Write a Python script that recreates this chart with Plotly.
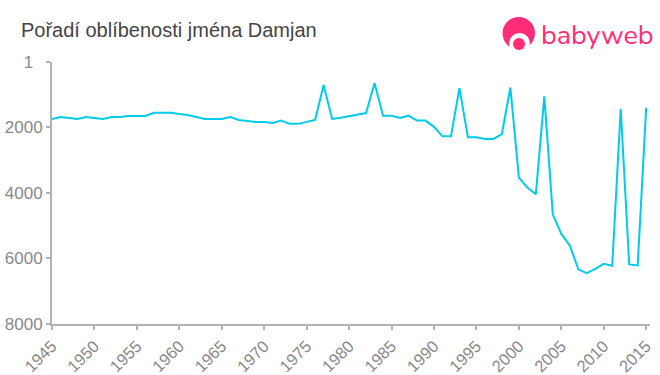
import plotly.graph_objects as go

title_text = "Pořadí oblíbenosti jména Damjan"
brand_text = "babyweb"
years = list(range(1945, 2016))
ranks = [1740, 1680, 1710, 1740, 1680, 1710, 1740, 1680, 1680, 1650,
         1650, 1650, 1550, 1550, 1550, 1590, 1620, 1680, 1740, 1740,
         1740, 1680, 1770, 1800, 1830, 1830, 1860, 1790, 1890, 1890,
         1830, 1770, 700, 1740, 1700, 1650, 1610, 1560, 640, 1640,
         1640, 1710, 1640, 1790, 1790, 1980, 2270, 2270, 800, 2300,
         2300, 2350, 2350, 2200, 780, 3530, 3830, 4040, 1050, 4660,
         5250, 5600, 6330, 6450, 6320, 6160, 6220, 1430, 6180, 6210, 1400]
x_ticks = list(range(1945, 2016, 5))
y_ticks = [1, 2000, 4000, 6000, 8000]
y_labels = ["1\u00a0\u00a0", "2000", "4000", "6000", "8000"]

W, H = 660, 375
L, R, T, B = 52, 10, 62, 51
PINK = "#ff2d78"
GREY = "#b3b3b3"
TICK = "#888888"


def px(v):
    return (v - L) / (W - L - R)


def py(v):
    return (H - B - v) / (H - T - B)


fig = go.Figure(go.Scatter(
    x=years, y=ranks, mode="lines",
    line=dict(color="#00cbe9", width=2),
    hoverinfo="skip", showlegend=False,
))

# logo: head, cut-out face, baby's chin, hair parting
logo = [
    dict(type="circle", x0=px(502.5), x1=px(535), y0=py(17), y1=py(49.5), fillcolor=PINK),
    dict(type="circle", x0=px(509), x1=px(530), y0=py(33), y1=py(54), fillcolor="white"),
    dict(type="rect", x0=px(500), x1=px(537), y0=py(48), y1=py(56), fillcolor="white"),
    dict(type="circle", x0=px(513), x1=px(525), y0=py(38), y1=py(50), fillcolor=PINK),
]
shapes = [dict(s, xref="paper", yref="paper", line_width=0, layer="above") for s in logo]

fig.update_layout(
    width=W, height=H,
    autosize=False,
    margin=dict(l=L, r=R, t=T, b=B, autoexpand=False),
    paper_bgcolor="white", plot_bgcolor="white",
    font=dict(family="Liberation Sans, Arial, sans-serif"),
    shapes=shapes,
    annotations=[
        dict(text=title_text, xref="paper", yref="paper", x=px(18.5), y=py(30),
             xanchor="left", yanchor="middle", showarrow=False,
             font=dict(size=20, color="#444444")),
        dict(text=brand_text, xref="paper", yref="paper", x=px(538.5), y=py(35),
             xanchor="left", yanchor="middle", showarrow=False,
             font=dict(family="Nunito, Lato, sans-serif", size=27, color=PINK)),
    ],
    xaxis=dict(
        range=[1945, 2015.45], tickvals=x_ticks, tickangle=-45, automargin=False,
        ticks="outside", ticklen=4, tickwidth=2, tickcolor=GREY,
        showline=True, linecolor=GREY, linewidth=2, showgrid=False, zeroline=False,
        tickfont=dict(size=16.5, color=TICK),
    ),
    yaxis=dict(
        range=[8000, 1], tickvals=y_ticks, ticktext=y_labels, automargin=False,
        ticks="outside", ticklen=4, tickwidth=2, tickcolor=GREY,
        showline=True, linecolor=GREY, linewidth=2, showgrid=False, zeroline=False,
        tickfont=dict(size=17, color=TICK),
    ),
)

# The reference has no page margin; drop the browser's default 8px body margin.
fig.write_html(
    "out.html",
    config={"displayModeBar": False},
    post_script="document.body.style.margin='0';document.body.style.overflow='hidden';",
)
